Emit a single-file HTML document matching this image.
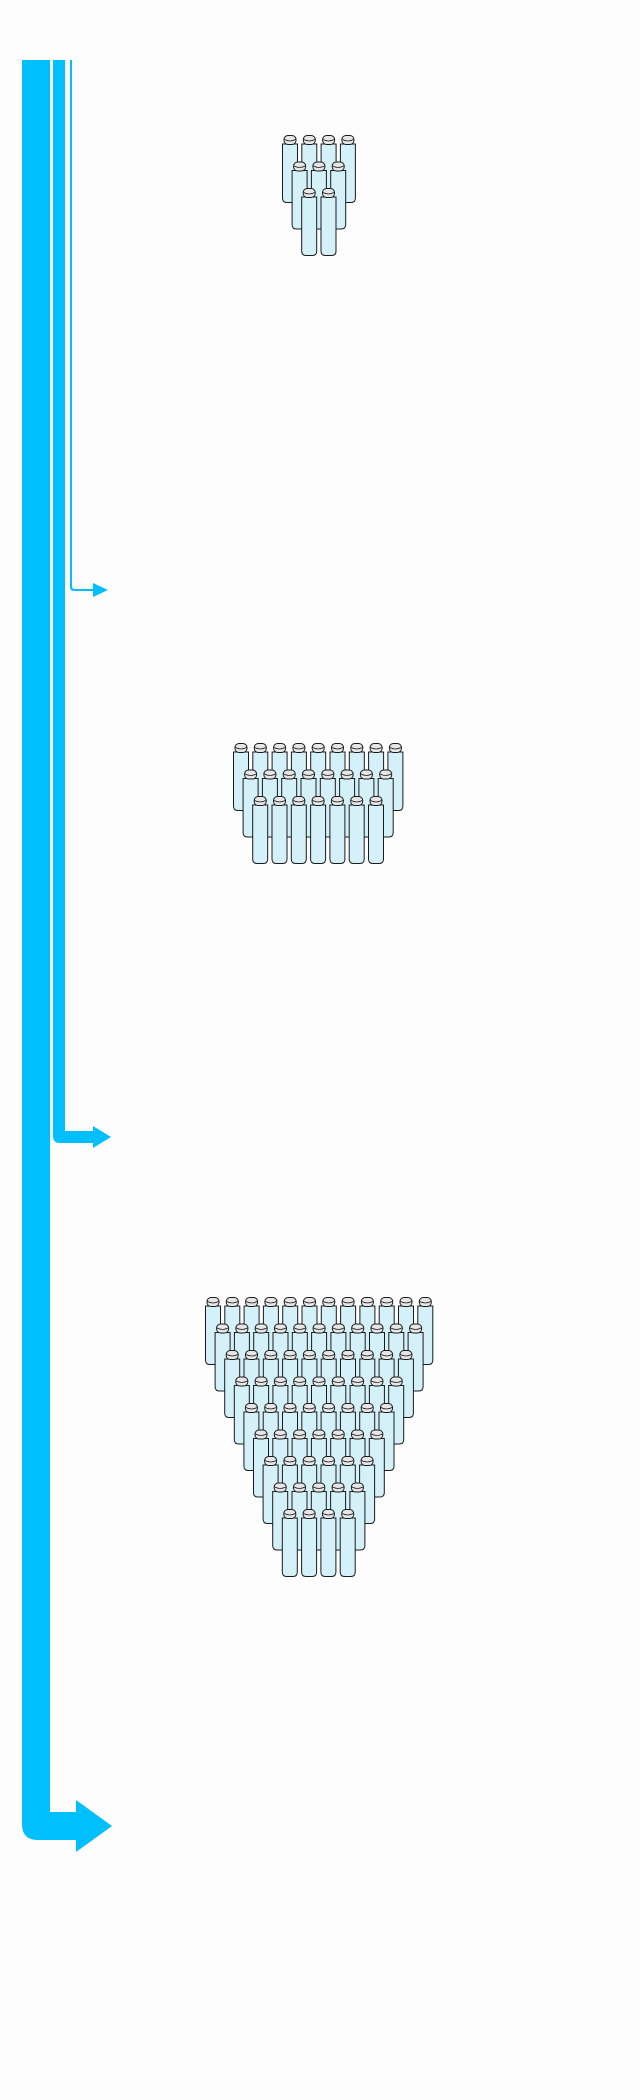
<!DOCTYPE html>
<html><head><style>
html,body{margin:0;padding:0;background:#fdfdfd;}
svg{display:block;}
</style></head><body>
<svg id="s" width="640" height="2100" viewBox="0 0 640 2100" xmlns="http://www.w3.org/2000/svg">
<rect width="640" height="2100" fill="#fdfdfd"/>
<!-- big arrow -->
<path d="M22 60 H50 V1812 H76 V1800 L112 1826 L76 1852 V1840 H38 Q22 1840 22 1824 Z" fill="#00bfff"/>
<!-- medium arrow -->
<path d="M53 60 H65 V1131 H93 V1126 L111 1137 L93 1148 V1143 H60 Q53 1143 53 1136 Z" fill="#00bfff"/>
<!-- thin arrow -->
<path d="M70 60 H72 V586 Q72 589 75 589 H93 V583 L108 590 L93 597 V591 H74 Q70 591 70 587 Z" fill="#00bfff"/>
<g id="b"></g>
</svg>
<script>
var g=document.getElementById('b');var out='';
function bottle(x,y){
 out+='<g transform="translate('+x+','+y+')">'+
 '<path d="M0.5 9 H15.5 V63 Q15.5 67.5 11 67.5 H5 Q0.5 67.5 0.5 63 Z" fill="#d4f1f9" stroke="#1a1a1a" stroke-width="1"/>'+
 '<rect x="2" y="0.5" width="12" height="9" rx="4" fill="#e6e6e6" stroke="#1a1a1a" stroke-width="1"/>'+
 '<path d="M2.5 4.5 Q8 7.5 13.5 4.5" fill="none" stroke="#1a1a1a" stroke-width="0.8"/>'+
 '</g>';
}
function group(x0,y0,n0,rows){
 for(var r=0;r<rows;r++){
  var n=n0-r;
  for(var i=0;i<n;i++) bottle(x0+r*9.6+i*19.3, y0+r*26.5);
 }
}
group(282,135,4,3);
group(233,743,9,3);
group(205,1297,12,9);
g.innerHTML=out;
</script>
</body></html>
